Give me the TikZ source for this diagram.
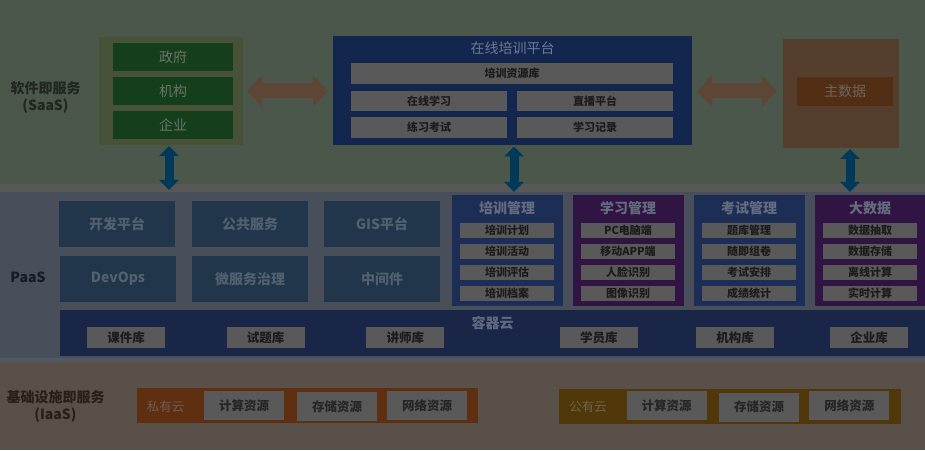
\documentclass[tikz,border=0pt]{standalone}
\usepackage{fontspec}
\setmainfont{Noto Sans CJK SC}
\usetikzlibrary{arrows.meta}
\begin{document}
\begin{tikzpicture}[x=1pt,y=1pt,line width=0.4pt]
\definecolor{saasbg}{RGB}{74,87,74}
\definecolor{sepgrey}{RGB}{88,88,88}
\definecolor{paasbg}{RGB}{72,79,91}
\definecolor{stripe}{RGB}{84,88,98}
\definecolor{iaasbg}{RGB}{90,80,74}
\definecolor{orgbg}{RGB}{72,82,56}
\definecolor{orggreen}{RGB}{20,62,28}
\definecolor{orgtext}{RGB}{105,118,105}
\definecolor{navy}{RGB}{19,38,78}
\definecolor{navytitle}{RGB}{110,120,148}
\definecolor{tilegrey}{RGB}{89,89,89}
\definecolor{tiletext}{RGB}{28,28,28}
\definecolor{arrowbrown}{RGB}{94,70,55}
\definecolor{mdmbg}{RGB}{86,62,46}
\definecolor{mdminner}{RGB}{82,46,20}
\definecolor{mdmtext}{RGB}{112,100,92}
\definecolor{arrowblue}{RGB}{0,58,88}
\definecolor{paasbox}{RGB}{33,53,75}
\definecolor{paastext}{RGB}{82,96,112}
\definecolor{colblue}{RGB}{29,46,86}
\definecolor{colpurple}{RGB}{48,20,68}
\definecolor{coltitle}{RGB}{100,108,126}
\definecolor{cloudbg}{RGB}{25,38,72}
\definecolor{cloudtitle}{RGB}{95,106,128}
\definecolor{privbg}{RGB}{95,47,17}
\definecolor{privtext}{RGB}{112,92,82}
\definecolor{pubbg}{RGB}{80,56,10}
\definecolor{pubtext}{RGB}{112,98,72}
\definecolor{saaslbl}{RGB}{32,38,32}
\definecolor{paaslbl}{RGB}{22,28,38}
\definecolor{iaaslbl}{RGB}{42,30,25}
\providecommand{\fbig}{\fontsize{14}{17}\selectfont}
\providecommand{\fmid}{\fontsize{12.5}{14}\selectfont}
\providecommand{\fsmall}{\fontsize{11}{13}\selectfont}
\tikzset{grp/.style={inner sep=0pt,outer sep=0pt},lvl/.style={inner sep=0pt,align=center,font=\fbig\bfseries},tile/.style={grp,fill=tilegrey,text=tiletext,font=\fsmall\bfseries},halftile/.style={tile,minimum width=156pt,minimum height=20.5pt},orgtile/.style={grp,fill=orggreen,text=orgtext,font=\fbig,minimum width=120pt,minimum height=28pt},paastile/.style={grp,fill=paasbox,text=paastext,font=\fbig\bfseries,minimum width=116pt,minimum height=46pt},modcol/.style={grp,minimum width=111pt,minimum height=111pt},coltitle/.style={inner sep=0pt,text=coltitle,font=\fbig\bfseries},coltile/.style={tile,minimum width=94pt,minimum height=15pt},cloudtile/.style={tile,font=\fmid\bfseries,minimum width=78pt,minimum height=21.5pt},restile/.style={tile,text=black!85,font=\fmid\bfseries,minimum width=80pt,minimum height=29pt},wide/.style={draw=arrowbrown,line width=15pt,{Triangle[length=15pt,width=31pt]}-{Triangle[length=15pt,width=31pt]}},riser/.style={draw=arrowblue,line width=9pt,{Triangle[length=10pt,width=19pt]}-{Triangle[length=10pt,width=19pt]}}}
\useasboundingbox (0,0) rectangle (925,450);
\fill[saasbg] (0,266) rectangle (925,450);
\fill[sepgrey] (0,258) rectangle (925,266);
\fill[paasbg] (0,92) rectangle (925,258);
\fill[stripe] (0,88) rectangle (925,92);
\fill[iaasbg] (0,0) rectangle (925,88);
\node[lvl,text=saaslbl] (saaslbl) at (45.5,352.5) {软件即服务\\(SaaS)};
\node[grp,fill=orgbg,minimum width=144pt,minimum height=108pt] (orgs) at (171,359) {};
\node[orgtile] (gov) at (173,393) {政府};
\node[orgtile] (inst) at (173,358.5) {机构};
\node[orgtile] (ent) at (173,325) {企业};
\node[grp,fill=navy,minimum width=359pt,minimum height=109pt] (platform) at (512.5,359) {};
\node[inner sep=0pt,text=navytitle,font=\fbig] (platformt) at (512.5,402) {在线培训平台};
\node[tile,minimum width=322pt,minimum height=21pt] (res) at (512,376.5) {培训资源库};
\node[halftile] (learn) at (429,349) {在线学习};
\node[halftile] (live) at (595,349) {直播平台};
\node[halftile] (exam) at (429,322.5) {练习考试};
\node[halftile] (rec) at (595,322.5) {学习记录};
\node[grp,fill=mdmbg,minimum width=116pt,minimum height=109pt] (mdm) at (841,356.5) {};
\node[grp,fill=mdminner,text=mdmtext,font=\fbig,minimum width=96pt,minimum height=29pt] (master) at (845,358.5) {主数据};
\draw[wide,shorten <=4pt,shorten >=5pt] (orgs.east) -- (platform.west);
\draw[wide,shorten <=5pt,shorten >=6pt] (platform.east) -- (platform.east -| mdm.west);
\coordinate (dn1) at (169,260);
\coordinate (dn2) at (514,258);
\coordinate (dn3) at (850,258);
\draw[riser,shorten <=1pt] (orgs.south -| dn1) -- (dn1);
\draw[riser,shorten <=1pt] (platform.south -| dn2) -- (dn2);
\draw[riser,shorten <=1pt] (mdm.south -| dn3) -- (dn3);
\node[lvl,text=paaslbl] (paaslbl) at (28,173) {PaaS};
\node[paastile] (devplat) at (117,226) {开发平台};
\node[paastile] (pubsvc) at (250,226) {公共服务};
\node[paastile] (gis) at (382,226) {GIS平台};
\node[paastile] (devops) at (118,171) {DevOps};
\node[paastile] (msgov) at (250,171) {微服务治理};
\node[paastile] (middle) at (382,171) {中间件};
\node[modcol,fill=colblue] (trainm) at (507,199.5) {};
\node[coltitle] (trainmt) at (507,241.7) {培训管理};
\node[coltile] (tplan) at (507,219.5) {培训计划};
\node[coltile] (tact) at (507,198.5) {培训活动};
\node[coltile] (teval) at (507,177.5) {培训评估};
\node[coltile] (tfile) at (507,156.5) {培训档案};
\node[modcol,fill=colpurple] (learnm) at (628,199.5) {};
\node[coltitle] (learnmt) at (628,241.7) {学习管理};
\node[coltile] (lpc) at (628,219.5) {PC电脑端};
\node[coltile] (lapp) at (628,198.5) {移动APP端};
\node[coltile] (lface) at (628,177.5) {人脸识别};
\node[coltile] (limg) at (628,156.5) {图像识别};
\node[modcol,fill=colblue] (examm) at (749,199.5) {};
\node[coltitle] (exammt) at (749,241.7) {考试管理};
\node[coltile] (ebank) at (749,219.5) {题库管理};
\node[coltile] (epaper) at (749,198.5) {随即组卷};
\node[coltile] (esched) at (749,177.5) {考试安排};
\node[coltile] (escore) at (749,156.5) {成绩统计};
\node[modcol,fill=colpurple] (bigdata) at (870,199.5) {};
\node[coltitle] (bigdatat) at (870,241.7) {大数据};
\node[coltile] (dext) at (870,219.5) {数据抽取};
\node[coltile] (dstore) at (870,198.5) {数据存储};
\node[coltile] (doff) at (870,177.5) {离线计算};
\node[coltile] (dreal) at (870,156.5) {实时计算};
\node[grp,fill=cloudbg,minimum width=865pt,minimum height=46pt] (cloud) at (492.5,117) {};
\node[inner sep=0pt,text=cloudtitle,font=\fbig\bfseries] (cloudt) at (492.5,127.3) {容器云};
\node[cloudtile] (courselib) at (126,112.5) {课件库};
\node[cloudtile] (quizlib) at (265.7,112.5) {试题库};
\node[cloudtile] (tutorlib) at (405.3,112.5) {讲师库};
\node[cloudtile] (studlib) at (598.8,112.5) {学员库};
\node[cloudtile] (instlib) at (735,112.5) {机构库};
\node[cloudtile] (entlib) at (869.2,112.5) {企业库};
\node[lvl,text=iaaslbl] (iaaslbl) at (55.5,43.5) {基础设施即服务\\(IaaS)};
\node[grp,fill=privbg,minimum width=341pt,minimum height=34.5pt] (priv) at (307.7,44.5) {};
\node[inner sep=0pt,text=privtext,font=\fmid] (privt) at (165.5,43.3) {私有云};
\node[restile] (pcomp) at (244,44.7) {计算资源};
\node[restile] (pstor) at (337,43.7) {存储资源};
\node[restile] (pnet) at (427,44.7) {网络资源};
\node[grp,fill=pubbg,minimum width=341.7pt,minimum height=35pt] (pub) at (729.8,43.5) {};
\node[inner sep=0pt,text=pubtext,font=\fmid] (pubt) at (588,43.5) {公有云};
\node[restile] (qcomp) at (666.7,44.3) {计算资源};
\node[restile] (qstor) at (759,43) {存储资源};
\node[restile] (qnet) at (849.3,44.1) {网络资源};
\end{tikzpicture}
\end{document}
